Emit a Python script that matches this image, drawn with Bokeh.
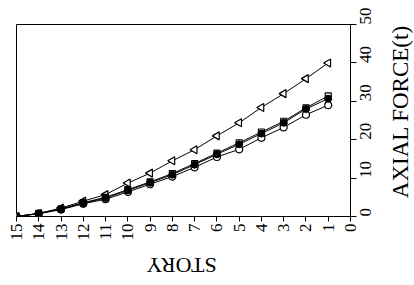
import math
from bokeh.plotting import figure
from bokeh.layouts import row, column
from bokeh.models import Range1d, FixedTicker
from bokeh.core.properties import value
from bokeh.embed import file_html
from bokeh.resources import INLINE

story = [15, 14, 13, 12, 11, 10, 9, 8, 7, 6, 5, 4, 3, 2, 1]
force_triangle = [0, 0.8, 2.2, 4.0, 5.7, 8.7, 11.3, 14.5, 17.4, 21.0, 24.4, 28.4, 32.0, 35.9, 40.0]
force_filled = [0, 0.8, 1.9, 3.5, 4.8, 6.8, 8.8, 10.9, 13.5, 16.2, 18.8, 21.6, 24.4, 28.0, 30.7]
force_square = [0, 0.8, 2.0, 3.6, 5.0, 7.0, 9.0, 11.2, 13.8, 16.5, 19.2, 22.0, 24.8, 28.3, 31.4]
force_circle = [0, 0.7, 1.8, 3.3, 4.5, 6.4, 8.4, 10.4, 12.8, 15.5, 17.5, 20.5, 23.2, 26.5, 29.0]
x_ticks = list(range(0, 16))
y_ticks = [0, 10, 20, 30, 40, 50]
x_title = "STORY"
y_title = "AXIAL  FORCE(t)"

FONT = "Liberation Serif"
MAIN_W, MAIN_H = 384, 246
SIDE_W = 30
BOTTOM_H = 285 - MAIN_H

p = figure(width=MAIN_W, height=MAIN_H,
           x_range=Range1d(15, 0), y_range=Range1d(0, 50),
           y_axis_location="right",
           output_backend="svg", toolbar_location=None,
           min_border_left=16, min_border_top=24,
           min_border_right=34, min_border_bottom=30)
p.grid.visible = False
p.outline_line_color = "black"
p.outline_line_width = 1
p.background_fill_color = "white"
p.border_fill_color = "white"

xa = p.xaxis[0]
xa.ticker = FixedTicker(ticks=x_ticks)
xa.major_label_orientation = math.pi / 2
xa.major_label_text_font = FONT
xa.major_label_text_font_size = "17px"
xa.major_label_text_color = "black"
xa.major_label_standoff = 2
xa.major_tick_out = 5
xa.major_tick_in = 0
xa.minor_tick_out = 0
xa.minor_tick_in = 0
xa.axis_line_color = "black"
xa.major_tick_line_color = "black"

ya = p.yaxis[0]
ya.ticker = FixedTicker(ticks=y_ticks)
ya.major_label_orientation = math.pi / 2
ya.major_label_text_font = FONT
ya.major_label_text_font_size = "17px"
ya.major_label_text_color = "black"
ya.major_label_standoff = 9
ya.major_tick_out = 6
ya.major_tick_in = 0
ya.minor_tick_out = 0
ya.minor_tick_in = 0
ya.axis_line_color = "black"
ya.major_tick_line_color = "black"

lw = 1
p.line(story, force_triangle, line_color="black", line_width=lw)
p.line(story, force_square, line_color="black", line_width=lw)
p.line(story, force_filled, line_color="black", line_width=lw)
p.line(story, force_circle, line_color="black", line_width=lw)

p.scatter(story, force_triangle, marker="triangle", angle=math.pi / 2, size=8,
          line_color="black", fill_color="white", line_width=1.2)
p.scatter(story, force_circle, marker="circle", size=7,
          line_color="black", fill_color="white", line_width=1.2)
p.scatter(story, force_square, marker="square", size=6,
          line_color="black", fill_color="white", line_width=1.2)
p.scatter(story, force_filled, marker="circle", size=7,
          line_color="black", fill_color="black", line_width=1)

# right-hand title strip (text reads bottom-to-top)
p2 = figure(width=SIDE_W, height=MAIN_H, x_range=Range1d(0, SIDE_W), y_range=Range1d(0, MAIN_H),
            x_axis_type=None, y_axis_type=None, output_backend="svg", toolbar_location=None,
            min_border=0)
p2.grid.visible = False
p2.outline_line_color = None
p2.text(x=[16], y=[MAIN_H - 108], text=[y_title], angle=math.pi / 2,
        text_align="center", text_baseline="middle",
        text_font=value(FONT), text_font_size="23px", text_color="black")

# bottom title strip (text upside-down)
p3 = figure(width=MAIN_W + SIDE_W, height=BOTTOM_H, x_range=Range1d(0, MAIN_W + SIDE_W),
            y_range=Range1d(0, BOTTOM_H),
            x_axis_type=None, y_axis_type=None, output_backend="svg", toolbar_location=None,
            min_border=0)
p3.grid.visible = False
p3.outline_line_color = None
p3.text(x=[181], y=[BOTTOM_H - 19], text=[x_title], angle=math.pi,
        text_align="center", text_baseline="middle",
        text_font=value(FONT), text_font_size="22px", text_color="black")

layout = column(row(p, p2), p3)
open("out.html", "w").write(file_html(layout, INLINE))
